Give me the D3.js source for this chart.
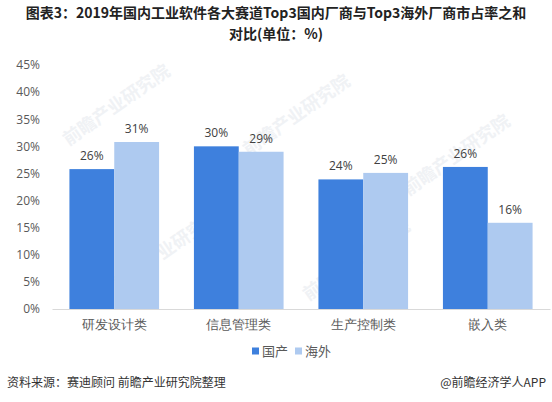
<!DOCTYPE html>
<html>
<head>
<meta charset="utf-8">
<script src="https://cdn.jsdelivr.net/npm/d3@7"></script>
<style>
  body { margin: 0; background: #fff; }
  svg { display: block; font-family: "Noto Sans CJK SC", "Noto Sans", sans-serif; }
</style>
</head>
<body>
<div id="chart"></div>
<script>
// chart data
var categories = ["研发设计类", "信息管理类", "生产控制类", "嵌入类"];
var seriesNames = ["国产", "海外"];
var domestic = [25.8, 30.0, 23.9, 26.2];
var overseas = [30.8, 29.0, 25.1, 15.9];
var labelsDomestic = ["26%", "30%", "24%", "26%"];
var labelsOverseas = ["31%", "29%", "25%", "16%"];
var yTicks = [0, 5, 10, 15, 20, 25, 30, 35, 40, 45];

var colors = ["#3e80dd", "#aecaf0"];

var svgWidth = 552;
var svgHeight = 402;

var margin = { top: 65, right: 2, bottom: 93, left: 52 };
var chartWidth = svgWidth - margin.left - margin.right;
var chartHeight = svgHeight - margin.top - margin.bottom;

var svg = d3.select("#chart")
  .append("svg")
  .attr("width", svgWidth)
  .attr("height", svgHeight);

// faint watermarks
var marks = [[120, 110], [300, 120], [460, 160], [170, 255], [360, 265]];
svg.selectAll(".wm")
  .data(marks)
  .enter()
  .append("text")
  .attr("class", "wm")
  .attr("transform", d => `translate(${d[0]},${d[1]}) rotate(-35)`)
  .attr("text-anchor", "middle")
  .attr("font-size", 18)
  .attr("font-weight", "bold")
  .attr("fill", "#f0f2f5")
  .text("前瞻产业研究院");

// title, two lines
var titleLines = ["图表3：2019年国内工业软件各大赛道Top3国内厂商与Top3海外厂商市占率之和", "对比(单位：%)"];
svg.selectAll(".title")
  .data(titleLines)
  .enter()
  .append("text")
  .attr("class", "title")
  .attr("x", 276)
  .attr("y", (d, i) => 18 + i * 21)
  .attr("text-anchor", "middle")
  .attr("font-size", 14)
  .attr("font-weight", "bold")
  .attr("fill", "#222")
  .text(d => d);

var chartGroup = svg.append("g")
  .attr("transform", `translate(${margin.left}, ${margin.top})`);

var x0 = d3.scaleBand()
  .domain(categories)
  .range([0, chartWidth])
  .paddingInner(0.28)
  .paddingOuter(0.14);

var x1 = d3.scaleBand()
  .domain(seriesNames)
  .range([0, x0.bandwidth()]);

var y = d3.scaleLinear()
  .domain([0, 45])
  .range([chartHeight, 0]);

// y axis labels
var yAxis = d3.axisLeft(y)
  .tickValues(yTicks)
  .tickFormat(d => d + "%")
  .tickSize(0)
  .tickPadding(12);

var yG = chartGroup.append("g").call(yAxis);
yG.select(".domain").remove();
yG.selectAll("text")
  .attr("font-size", 12)
  .attr("fill", "#595959")
  .attr("font-family", "'Open Sans', 'Noto Sans', sans-serif");

var rows = categories.map((c, i) => ({
  cat: c,
  vals: [
    { name: seriesNames[0], v: domestic[i], label: labelsDomestic[i] },
    { name: seriesNames[1], v: overseas[i], label: labelsOverseas[i] }
  ]
}));

var groups = chartGroup.selectAll(".grp")
  .data(rows)
  .enter()
  .append("g")
  .attr("class", "grp")
  .attr("transform", d => `translate(${x0(d.cat)},0)`);

groups.selectAll("rect")
  .data(d => d.vals)
  .enter()
  .append("rect")
  .attr("x", d => x1(d.name))
  .attr("y", d => y(d.v))
  .attr("width", x1.bandwidth())
  .attr("height", d => chartHeight - y(d.v))
  .attr("fill", (d, i) => colors[i]);

groups.selectAll(".lbl")
  .data(d => d.vals)
  .enter()
  .append("text")
  .attr("class", "lbl")
  .attr("x", d => x1(d.name) + x1.bandwidth() / 2)
  .attr("y", d => y(d.v) - 9)
  .attr("text-anchor", "middle")
  .attr("font-size", 12)
  .attr("fill", "#404040")
  .attr("font-family", "'Open Sans', 'Noto Sans', sans-serif")
  .text(d => d.label);

// x axis
var xAxis = d3.axisBottom(x0).tickSize(0).tickPadding(11);
var xG = chartGroup.append("g")
  .attr("transform", `translate(0, ${chartHeight})`)
  .call(xAxis);
xG.select(".domain").attr("stroke", "#d9d9d9");
xG.selectAll("text")
  .attr("font-size", 13)
  .attr("fill", "#595959");

// legend
var legend = svg.append("g")
  .attr("transform", "translate(252, 351)");
var legendItems = legend.selectAll(".leg")
  .data(seriesNames)
  .enter()
  .append("g")
  .attr("class", "leg")
  .attr("transform", (d, i) => `translate(${i * 43}, 0)`);
legendItems.append("rect")
  .attr("x", 0)
  .attr("y", -3.5)
  .attr("width", 7)
  .attr("height", 7)
  .attr("fill", (d, i) => colors[i]);
legendItems.append("text")
  .attr("x", 10)
  .attr("y", 0)
  .attr("dy", "0.35em")
  .attr("font-size", 13)
  .attr("fill", "#595959")
  .text(d => d);

// footer
svg.append("text")
  .attr("x", 7)
  .attr("y", 387)
  .attr("font-size", 12)
  .attr("fill", "#333")
  .text("资料来源：赛迪顾问 前瞻产业研究院整理");

svg.append("text")
  .attr("x", 546)
  .attr("y", 387)
  .attr("text-anchor", "end")
  .attr("font-size", 12)
  .attr("fill", "#333")
  .text("@前瞻经济学人APP");
</script>
</body>
</html>
